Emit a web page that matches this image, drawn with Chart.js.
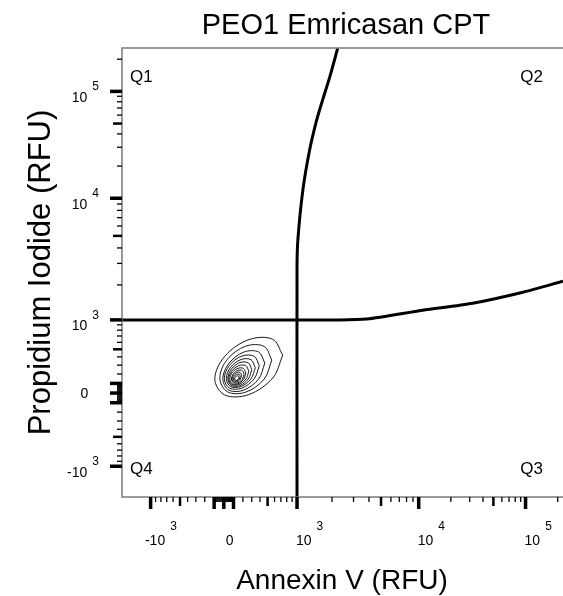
<!DOCTYPE html>
<html>
<head>
<meta charset="utf-8">
<script src="https://cdn.jsdelivr.net/npm/chart.js@4.4.1/dist/chart.umd.min.js"></script>
<style>
  html, body { margin: 0; padding: 0; background: #ffffff; }
  #c { display: block; }
</style>
</head>
<body>
<canvas id="c" width="563" height="596"></canvas>
<script>
// ---------------- DATA (values in RFU) ----------------
const chartTitle = "PEO1 Emricasan CPT";
const xAxisTitle = "Annexin V (RFU)";
const yAxisTitle = "Propidium Iodide (RFU)";
const quadrantLabels = ["Q1", "Q2", "Q3", "Q4"];

const xRange = [-1771, 224000];
const yRange = [-1845, 254700];

// tick labels: value, mantissa text, exponent text
const tickLabelValues = [-1000, 0, 1000, 10000, 100000];
const tickLabelBase   = ["-10", "0", "10", "10", "10"];
const tickLabelExp    = ["3", "", "3", "4", "5"];

const majorTicks  = [-1000, -100, 0, 100, 1000, 10000, 100000];
const mediumTicks = [-500, 500, 5000, 50000];
const minorTicks  = [-900, -800, -700, -600, -400, -300, -200,
                     -90, -80, -70, -60, -50, -40, -30, -20, -10,
                     10, 20, 30, 40, 50, 60, 70, 80, 90,
                     200, 300, 400, 600, 700, 800, 900,
                     2000, 3000, 4000, 6000, 7000, 8000, 9000,
                     20000, 30000, 40000, 60000, 70000, 80000, 90000,
                     200000];

// quadrant gate lines
const gateHorizontal = [[-2000, 1000], [2186, 1000], [3830, 1017], [10870, 1220],
                        [32000, 1403], [94400, 1740], [224000, 2145]];
const gateVertical   = [[1000, -2000], [1000, 2740], [1017, 4610], [1128, 11860],
                        [1293, 28100], [1487, 53800], [1669, 82800], [1915, 136000],
                        [2230, 254000]];

// density contours (outer to inner), points in RFU
const contour1  = [[731,422],[573,648],[266,641],[10,408],[-93,145],[10,-20],[266,-15],[573,157]];
const contour2  = [[559,360],[454,540],[232,544],[37,371],[-41,156],[37,13],[232,10],[454,146]];
const contour3  = [[462,324],[383,463],[210,462],[53,321],[-10,145],[53,30],[210,31],[383,147]];
const contour4  = [[391,294],[328,408],[188,410],[58,297],[5,151],[58,52],[188,51],[328,148]];
const contour5  = [[342,271],[291,365],[177,366],[69,274],[26,151],[69,68],[177,67],[291,148]];
const contour6  = [[300,249],[260,327],[167,330],[77,254],[41,151],[77,79],[167,77],[260,146]];
const contour7  = [[266,230],[233,293],[156,294],[82,232],[51,147],[82,89],[156,88],[233,145]];
const contour8  = [[232,210],[206,262],[145,263],[86,214],[62,145],[86,97],[145,95],[206,141]];
const contour9  = [[213,198],[193,238],[145,240],[99,201],[79,146],[99,108],[145,106],[193,143]];
const contour10 = [[186,186],[171,217],[135,219],[99,189],[85,147],[99,117],[135,116],[171,144]];
const contour11 = [[171,175],[160,197],[135,198],[109,177],[99,147],[109,126],[135,125],[160,145]];
const contour12 = [[158,164],[151,179],[135,179],[118,166],[112,147],[118,133],[135,133],[151,145]];
const contours = [contour1, contour2, contour3, contour4, contour5, contour6,
                  contour7, contour8, contour9, contour10, contour11, contour12];

// ---------------- biexponential-like display transform ----------------
const LIN_C = 560, LIN_S = Math.asinh(1000 / LIN_C), HI_DECADE = 1.46;
const T4 = Math.asinh(10000 / LIN_C) / LIN_S;
function fwd(v) {
  const a = Math.abs(v);
  if (a <= 10000) return Math.asinh(v / LIN_C) / LIN_S;
  return Math.sign(v) * (T4 + (Math.log10(a) - 4) * HI_DECADE);
}
function inv(t) {
  const a = Math.abs(t);
  if (a <= T4) return LIN_C * Math.sinh(t * LIN_S);
  return Math.sign(t) * Math.pow(10, 4 + (a - T4) / HI_DECADE);
}

class BiexScale extends Chart.LinearScale {
  configure() {
    super.configure();
    this._startValue = fwd(this.min);
    this._endValue = fwd(this.max);
    this._valueRange = this._endValue - this._startValue;
  }
  getPixelForValue(v) {
    return v == null ? NaN : this.getPixelForDecimal((fwd(v) - this._startValue) / this._valueRange);
  }
  getValueForPixel(p) {
    return inv(this._startValue + this.getDecimalForPixel(p) * this._valueRange);
  }
}
BiexScale.id = 'biex';
BiexScale.defaults = Chart.LinearScale.defaults;
Chart.register(BiexScale);

const FONT = '"Liberation Sans", Arial, Helvetica, sans-serif';
const toPts = arr => arr.map(p => ({x: p[0], y: p[1]}));

const datasets = [];
contours.forEach(c => {
  const pts = toPts(c);
  pts.push({x: c[0][0], y: c[0][1]});
  datasets.push({data: pts, showLine: true, borderColor: '#161616', borderWidth: 1,
                 pointRadius: 0, tension: 0.35, fill: false});
});
[gateHorizontal, gateVertical].forEach(g => {
  datasets.push({data: toPts(g), showLine: true, borderColor: '#000', borderWidth: 3,
                 pointRadius: 0, tension: 0.25, fill: false, borderCapStyle: 'butt'});
});

const decorPlugin = {
  id: 'decor',
  afterDatasetsDraw(chart) {
    const ctx = chart.ctx, ca = chart.chartArea;
    const xs = chart.scales.x, ys = chart.scales.y;
    ctx.save();
    // plot frame (left, top, bottom)
    ctx.strokeStyle = '#7a7a7a';
    ctx.lineWidth = 1.5;
    ctx.beginPath();
    ctx.moveTo(ca.right + 2, ca.top); ctx.lineTo(ca.left, ca.top);
    ctx.lineTo(ca.left, ca.bottom); ctx.lineTo(ca.right + 2, ca.bottom);
    ctx.stroke();

    // tick marks
    ctx.strokeStyle = '#000';
    const groups = [[minorTicks, 5, 1.3], [mediumTicks, 9, 2.5], [majorTicks, 12, 3.5]];
    groups.forEach(([vals, len, w]) => {
      ctx.lineWidth = w;
      vals.forEach(v => {
        const px = xs.getPixelForValue(v);
        if (px >= ca.left - 1 && px <= ca.right + 1) {
          ctx.beginPath(); ctx.moveTo(px, ca.bottom); ctx.lineTo(px, ca.bottom + len); ctx.stroke();
        }
        const py = ys.getPixelForValue(v);
        if (py >= ca.top - 1 && py <= ca.bottom + 1) {
          ctx.beginPath(); ctx.moveTo(ca.left, py); ctx.lineTo(ca.left - len, py); ctx.stroke();
        }
      });
    });

    // tick labels
    ctx.fillStyle = '#000';
    tickLabelValues.forEach((v, i) => {
      const base = tickLabelBase[i], ex = tickLabelExp[i];
      // x axis
      const px = xs.getPixelForValue(v);
      const baseY = 545;
      const supY = 530;
      ctx.font = '14px ' + FONT;
      ctx.textAlign = 'left'; ctx.textBaseline = 'alphabetic';
      let startX;
      if (base === '0') startX = px + 2;
      else if (base.startsWith('-')) startX = px - 1 - ctx.measureText('-').width;
      else startX = px - 1;
      ctx.fillText(base, startX, baseY);
      const bw = ctx.measureText(base).width;
      if (ex) { ctx.font = '12px ' + FONT; ctx.fillText(ex, startX + bw + 5, supY); }
      // y axis
      const py = ys.getPixelForValue(v);
      const right = 99;
      if (ex) {
        ctx.font = '12px ' + FONT; ctx.textAlign = 'right';
        ctx.fillText(ex, right, py - 1);
        const ew = ctx.measureText(ex).width;
        ctx.font = '14px ' + FONT;
        ctx.fillText(base, right - ew - 5, py + 10.5);
      } else {
        ctx.font = '14px ' + FONT; ctx.textAlign = 'center';
        ctx.fillText(base, 84.5, py + 5);
      }
    });

    // quadrant labels
    ctx.font = '17px ' + FONT; ctx.textBaseline = 'alphabetic';
    ctx.textAlign = 'left';  ctx.fillText(quadrantLabels[0], ca.left + 8, 82);
    ctx.textAlign = 'right'; ctx.fillText(quadrantLabels[1], 543, 82);
    ctx.textAlign = 'right'; ctx.fillText(quadrantLabels[2], 543, 474);
    ctx.textAlign = 'left';  ctx.fillText(quadrantLabels[3], ca.left + 8, 474);

    // titles
    ctx.textAlign = 'center';
    ctx.font = '29px ' + FONT;
    ctx.fillText(chartTitle, 346, 34);
    ctx.font = '28px ' + FONT;
    ctx.fillText(xAxisTitle, 342, 589);
    ctx.save();
    ctx.translate(50, 272.5);
    ctx.rotate(-Math.PI / 2);
    ctx.font = '31px ' + FONT;
    ctx.fillText(yAxisTitle, 0, 0);
    ctx.restore();
    ctx.restore();
  }
};

new Chart(document.getElementById('c'), {
  type: 'scatter',
  data: { datasets },
  options: {
    responsive: false,
    animation: false,
    events: [],
    layout: { padding: { left: 122, right: 0, top: 48, bottom: 99 } },
    plugins: { legend: { display: false }, tooltip: { enabled: false }, title: { display: false } },
    scales: {
      x: { type: 'biex', min: xRange[0], max: xRange[1], display: false },
      y: { type: 'biex', min: yRange[0], max: yRange[1], display: false }
    }
  },
  plugins: [decorPlugin]
});
</script>
</body>
</html>
